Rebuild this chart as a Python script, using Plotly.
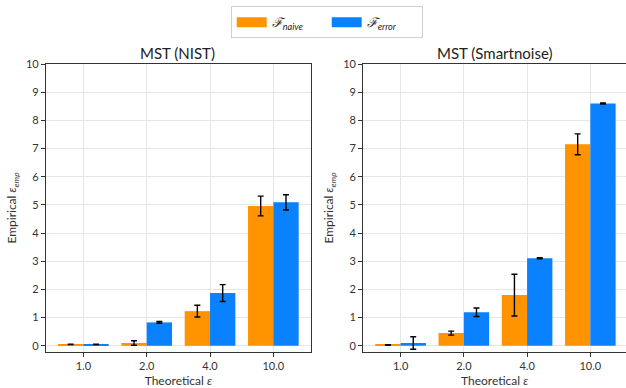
import plotly.graph_objects as go
from plotly.subplots import make_subplots

categories = ["1.0", "2.0", "4.0", "10.0"]
tick_pos = [0, 1, 2, 3]

nist_naive = [0.05, 0.10, 1.23, 4.96]
nist_naive_err = [0.01, 0.08, 0.21, 0.35]
nist_error = [0.05, 0.83, 1.87, 5.09]
nist_error_err = [0.01, 0.03, 0.30, 0.27]

smart_naive = [0.03, 0.45, 1.80, 7.15]
smart_naive_err = [0.01, 0.07, 0.74, 0.37]
smart_error = [0.10, 1.19, 3.11, 8.60]
smart_error_err = [0.22, 0.15, 0.02, 0.02]

titles = ["MST (NIST)", "MST (Smartnoise)"]
name_naive = "<i>ℱ</i><sub><i>naive</i></sub>"
name_error = "<i>ℱ</i><sub><i>error</i></sub>"

ORANGE = "#FF9300"
BLUE = "#0A82FF"
FONT = "Lato"

fig = make_subplots(rows=1, cols=2, subplot_titles=titles, horizontal_spacing=0.09)

panels = [
    (nist_naive, nist_naive_err, nist_error, nist_error_err),
    (smart_naive, smart_naive_err, smart_error, smart_error_err),
]

for i, (nv, ne, ev, ee) in enumerate(panels, start=1):
    for vals, errs, color in [(nv, ne, ORANGE), (ev, ee, BLUE)]:
        fig.add_trace(go.Bar(
            x=tick_pos, y=vals, marker=dict(color=color, line=dict(width=0)),
            error_y=dict(type="data", array=errs, visible=True, color="black",
                         thickness=1.4, width=3),
            showlegend=False,
        ), row=1, col=i)

# legend proxies
for name, color in [(name_naive, ORANGE), (name_error, BLUE)]:
    fig.add_trace(go.Scatter(x=[None], y=[None], mode="lines", name=name,
                             line=dict(color=color, width=10)), row=1, col=1)

fig.update_layout(
    width=626, height=388,
    margin=dict(l=46, r=0, t=64, b=36),
    barmode="group", bargap=0.2, bargroupgap=0,
    plot_bgcolor="white", paper_bgcolor="white",
    font=dict(family=FONT, size=11, color="#333333"),
    legend=dict(orientation="h", x=0.484, xanchor="center", y=1.2, yanchor="top",
                bgcolor="white", bordercolor="#d0d0d0", borderwidth=1,
                font=dict(family=FONT, size=13, color="#222222"),
                itemwidth=30, entrywidth=50, tracegroupgap=0),
)

fig.update_xaxes(domain=[0, 0.4564], row=1, col=1, range=[-0.59, 3.59])
fig.update_xaxes(domain=[0.547, 1.0], row=1, col=2, range=[-0.59, 3.564])

fig.update_xaxes(
    tickmode="array", tickvals=tick_pos, ticktext=categories,
    showgrid=True, gridcolor="#e6e6e6", gridwidth=1,
    showline=True, linecolor="#333333", linewidth=1.2, mirror=True,
    ticks="outside", ticklen=4, tickcolor="#333333",
    tickfont=dict(size=11), zeroline=False,
    title=dict(text="Theoretical <i>ε</i>", font=dict(size=12), standoff=5),
)
fig.update_yaxes(
    range=[-0.22, 10], tickmode="array", tickvals=list(range(11)),
    showgrid=True, gridcolor="#e6e6e6", gridwidth=1,
    showline=True, linecolor="#333333", linewidth=1.2,
    ticks="outside", ticklen=4, tickcolor="#333333",
    tickfont=dict(size=11), zeroline=False,
    title=dict(text="Empirical <i>ε</i><sub><i>emp</i></sub>", font=dict(size=12), standoff=6),
)
fig.update_yaxes(mirror=True, row=1, col=1)

for ann in fig.layout.annotations:
    ann.font = dict(family=FONT, size=15, color="#222222")

fig.write_html("out.html")
